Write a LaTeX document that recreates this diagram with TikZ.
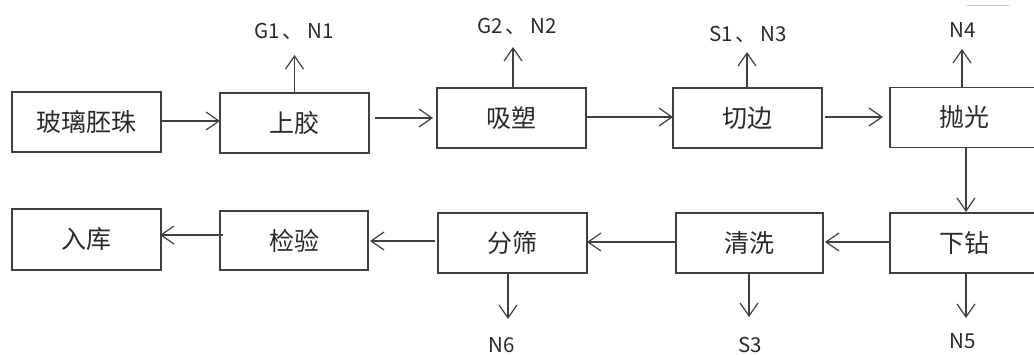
\documentclass[tikz,border=0pt]{standalone}
\usepackage{fontspec}
\newfontfamily\cjk{Noto Sans CJK SC}
\usetikzlibrary{arrows.meta,calc}
\definecolor{linec}{HTML}{404040}
\definecolor{txtc}{HTML}{2a2a2a}
\newcommand{\dun}{\kern3pt、\kern4pt}
\begin{document}
\begin{tikzpicture}[x=1pt,y=-1pt,
  box/.style={draw=linec, line width=1.2pt, minimum width=149pt, minimum height=60pt,
    inner sep=0pt, outer sep=0pt, font=\cjk\fontsize{25}{25}\selectfont, text=txtc},
  lbl/.style={font=\cjk\fontsize{20.5}{20.5}\selectfont, text=txtc, anchor=base, inner sep=0pt},
  arr/.style={draw=linec, line width=1.2pt,
    -{Straight Barb[length=13pt,width=18pt,line width=1.2pt]}}]
\useasboundingbox (0,0) rectangle (1034,354);
\fill[white] (0,0) rectangle (1034,354);
% boxes
\node[box] (A) at (86.5,122) {玻璃胚珠};
\node[box] (B) at (294.5,123) {上胶};
\node[box] (C) at (511.5,118) {吸塑};
\node[box] (D) at (747.5,118) {切边};
\node[box] (E) at (964.5,117.5) {抛光};
\node[box] (F) at (964.5,243) {下钻};
\node[box, minimum width=147pt] (G) at (749.5,243) {清洗};
\node[box] (H) at (512.5,243) {分筛};
\node[box, minimum width=148pt, minimum height=59pt] (I) at (294,240.5) {检验};
\node[box, minimum height=61pt] (J) at (86.5,239.5) {入库};
% labels
\node[lbl] (lB) at (294,38) {G1\dun N1};
\node[lbl] (lC) at (517,33) {G2\dun N2};
\node[lbl] (lD) at (748,41) {S1\dun N3};
\node[lbl] (lE) at (963,37) {N4};
\node[lbl] (lF) at (963,348) {N5};
\node[lbl] (lG) at (750,352) {S3};
\node[lbl] (lH) at (501.5,352) {N6};
% free ends
\coordinate (tB) at (294.5,55);
\coordinate (tC) at (513,47);
\coordinate (tD) at (747,52);
\coordinate (tE) at (962,49);
\coordinate (tF) at (966,318);
\coordinate (tG) at (749,317);
\coordinate (tH) at (508,319);
% main flow
\draw[arr] (A.east |- 0,121) -- (B.west |- 0,121);
\draw[arr] ($(B.east |- C.west)+(6,0)$) -- ($(C.west)+(-4,0)$);
\draw[arr] ($(C.east)+(1,-1)$) -- ($(D.west)+(0,-1)$);
\draw[arr] ($(D.east)+(3,-1)$) -- ($(E.west)+(-7,-0.5)$);
\draw[arr] ($(E.south)+(1.5,0)$) -- ($(F.north)+(1.5,-1)$);
\draw[arr] ($(F.west)+(0,-1)$) -- ($(G.east)+(2,-1)$);
\draw[arr] ($(G.west)+(0,-1)$) -- ($(H.east)+(0,-1)$);
\draw[arr] ($(H.west)+(-3,-2)$) -- ($(I.east)+(2,0.5)$);
\draw[arr] ($(I.west)+(3,-5.5)$) -- ($(J.east)+(-1,-4.5)$);
% emissions
\draw[arr] (B.north) -- (tB);
\draw[arr] (C.north -| tC) -- (tC);
\draw[arr] (D.north -| tD) -- (tD);
\draw[arr] (E.north -| tE) -- (tE);
\draw[arr] (F.south -| tF) -- (tF);
\draw[arr] (G.south -| tG) -- (tG);
\draw[arr] (H.south -| tH) -- (tH);
% stray mark at top right
\draw[draw=gray!45, line width=1pt] (967,5) -- (1009,5);
\end{tikzpicture}
\end{document}
